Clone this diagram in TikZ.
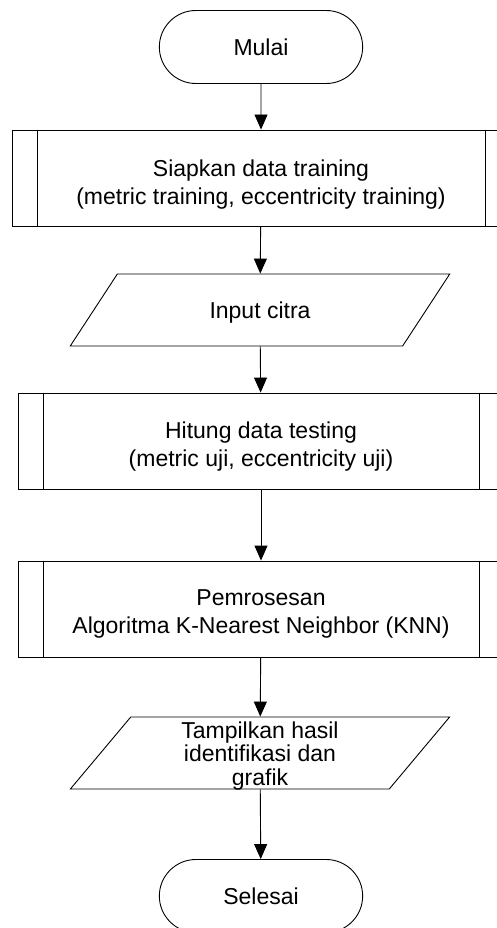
\documentclass[tikz,border=0pt]{standalone}
\usepackage{fontspec}
\setmainfont{Liberation Sans}
\usetikzlibrary{shapes.misc,shapes.geometric,arrows.meta}

\newcommand{\upstrut}[1]{\rule{0pt}{#1}}

\tikzset{
	terminal/.style={rounded rectangle, draw, minimum width=210pt, minimum height=73pt},
	subproc/.style={rectangle, draw, minimum height=96pt, align=center},
	inout/.style={trapezium, draw, trapezium stretches, trapezium left angle=62, trapezium right angle=118,
		minimum width=380pt, minimum height=72pt, align=center},
	flow/.style={-{Triangle[width=13pt,length=15pt]}}
}

\begin{document}
\begin{tikzpicture}[x=1pt, y=-1pt, line width=0.9pt, font=\fontsize{23}{28}\selectfont]
			\useasboundingbox (0,0) rectangle (497,928);
			\clip (0,0) rectangle (497,928);
			
			%flow nodes
			\node (mulai) at (261, 47) [terminal]{Mulai};
			\node (siapkan) at (261, 178) [subproc, minimum width=498pt]{\upstrut{30pt}Siapkan data training\\(metric training, eccentricity training)};
			\node (citra) at (260, 310) [inout]{\upstrut{22pt}Input citra};
			\node (hitung) at (261, 441) [subproc, minimum width=486pt]{\upstrut{27pt}Hitung data testing\\(metric uji, eccentricity uji)};
			\node (knn) at (261, 609) [subproc, minimum width=486pt]{\upstrut{26pt}Pemrosesan\\Algoritma K-Nearest Neighbor (KNN)};
			\node (hasil) at (260, 753) [inout, inner ysep=0pt, text height=68pt, text depth=4pt, font=\fontsize{23}{23.5}\selectfont]{Tampilkan hasil\\identifikasi dan\\grafik};
			\node (selesai) at (261, 896) [terminal]{Selesai};
			
			%double side lines
			\foreach \b in {siapkan, hitung, knn}{
				\draw ([xshift=25.5pt]\b.north west) -- ([xshift=25.5pt]\b.south west);
				\draw ([xshift=-25.5pt]\b.north east) -- ([xshift=-25.5pt]\b.south east);
			}
			
			%arrows
			\draw[flow] (mulai) -- (siapkan);
			\draw[flow] (siapkan) -- (citra);
			\draw[flow] (citra) -- (hitung);
			\draw[flow] (hitung) -- (knn);
			\draw[flow] (knn) -- (hasil);
			\draw[flow] (hasil) -- (selesai);
		\end{tikzpicture}
\end{document}
